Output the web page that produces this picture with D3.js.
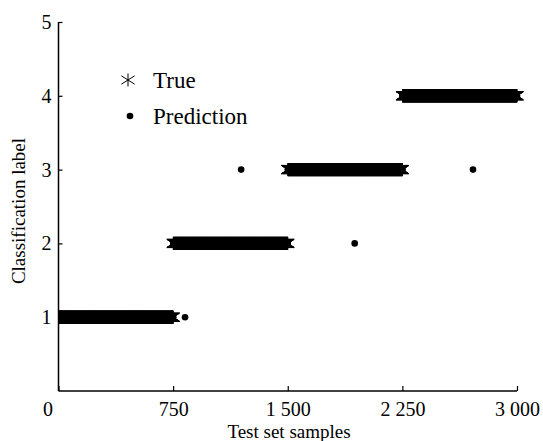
<!DOCTYPE html>
<html><head><meta charset="utf-8">
<script src="https://cdn.jsdelivr.net/npm/d3@7"></script>
<style>body{margin:0;background:#fff}svg{display:block}</style>
</head><body>
<svg id="c" width="543" height="441"></svg>
<script>
// ---- data ----
const classLabels = [1, 2, 3, 4];
const classStart  = [1, 751, 1501, 2251];
const classEnd    = [750, 1500, 2250, 3000];
const errSamples  = [828, 1195, 1938, 2712];
const errPred     = [1, 3, 2, 3];
const xTicks      = [0, 750, 1500, 2250, 3000];
const xTickLabels = ["0", "750", "1 500", "2 250", "3 000"];
const yTicks      = [1, 2, 3, 4, 5];
const yTickLabels = ["1", "2", "3", "4", "5"];
const legendNames = ["True", "Prediction"];

// expand to per-sample series
const trueSeries = [];
classLabels.forEach((c, i) => {
  for (let s = classStart[i]; s <= classEnd[i]; s++) trueSeries.push({s, v: c});
});
const predSeries = trueSeries.map(d => {
  const k = errSamples.indexOf(d.s);
  return {s: d.s, v: k >= 0 ? errPred[k] : d.v};
});

const svg = d3.select("#c");
const font = "'Liberation Serif','Times New Roman',serif";
const x = d3.scaleLinear().domain([0, 3000]).range([58.5, 517]);
const y = d3.scaleLinear().domain([0, 5]).range([391, 22]);

svg.append("defs").append("clipPath").attr("id", "clip")
  .append("rect").attr("x", 58.5).attr("y", 0).attr("width", 484).attr("height", 441);

// asterisk path (vertical + two diagonals)
const rv = 6.5, rd = 7.8, th = 32 * Math.PI / 180;
const cx = rd * Math.cos(th), cy = rd * Math.sin(th);
const star = `M0,${-rv}L0,${rv}M${-cx},${-cy}L${cx},${cy}M${-cx},${cy}L${cx},${-cy}`;

const plot = svg.append("g").attr("clip-path", "url(#clip)");
plot.append("g").selectAll("path").data(trueSeries).join("path")
  .attr("d", star)
  .attr("transform", d => `translate(${x(d.s)},${y(d.v)})`)
  .attr("stroke", "#000").attr("stroke-width", 1).attr("fill", "none");
plot.append("g").selectAll("circle").data(predSeries).join("circle")
  .attr("cx", d => x(d.s)).attr("cy", d => y(d.v)).attr("r", 3.3).attr("fill", "#000");

// axes
const xAxis = d3.axisBottom(x).tickValues(xTicks).tickSize(-5).tickPadding(8)
  .tickFormat((d, i) => xTickLabels[i]);
const gx = svg.append("g").attr("transform", "translate(0,391)").call(xAxis);
const yAxis = d3.axisLeft(y).tickValues(yTicks).tickSize(-4).tickPadding(7)
  .tickFormat((d, i) => yTickLabels[i]);
const gy = svg.append("g").attr("transform", "translate(58.5,0)").call(yAxis);
[gx, gy].forEach(g => {
  g.select(".domain").attr("stroke", "#000").attr("stroke-width", 1.5);
  g.selectAll(".tick line").attr("stroke", "#000").attr("stroke-width", 1.2);
  g.selectAll("text").attr("font-family", font).attr("font-size", 20).attr("fill", "#000");
});
gx.select(".domain").attr("d", "M58.5,0H517");
gy.select(".domain").attr("d", "M0,22V391");
gx.selectAll(".tick text").attr("dy", "0.85em").filter(d => d === 0).attr("dx", -11);

svg.append("text").attr("x", 289).attr("y", 438).attr("text-anchor", "middle")
  .attr("font-family", font).attr("font-size", 19).text("Test set samples");
svg.append("text").attr("transform", "translate(25,211) rotate(-90)").attr("text-anchor", "middle")
  .attr("font-family", font).attr("font-size", 19).text("Classification label");

// legend
const lg = svg.append("g");
lg.append("path").attr("d", star).attr("transform", "translate(128,80)")
  .attr("stroke", "#000").attr("stroke-width", 1).attr("fill", "none");
lg.append("circle").attr("cx", 130).attr("cy", 116).attr("r", 3.3).attr("fill", "#000");
legendNames.forEach((n, i) => {
  lg.append("text").attr("x", 153).attr("y", 88 + i * 36)
    .attr("font-family", font).attr("font-size", 23).text(n);
});
</script>
</body></html>
